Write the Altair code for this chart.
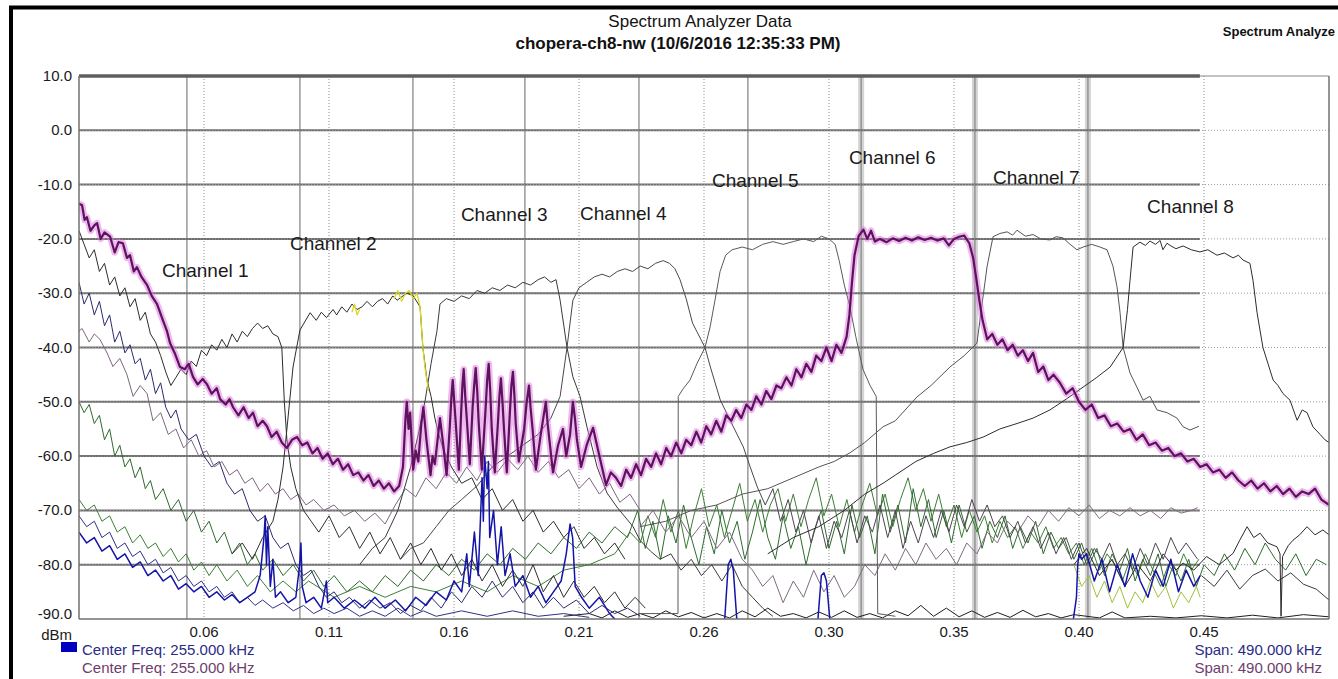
import altair as alt
import pandas as pd

# ---------------- axis / grid values ----------------
F_MIN, F_MAX = 0.01, 0.50
X_TICKS = [0.059, 0.108, 0.157, 0.206, 0.255, 0.304, 0.353, 0.402, 0.451]
X_LABELS = ["0.06", "0.11", "0.16", "0.21", "0.26", "0.30", "0.35", "0.40", "0.45"]
Y_TICKS = [10, 0, -10, -20, -30, -40, -50, -60, -70, -80]
Y_LABELS = ["10.0", "0.0", "-10.0", "-20.0", "-30.0", "-40.0", "-50.0", "-60.0", "-70.0", "-80.0"]
Y_BOTTOM = (-90, "-90.0")
GRID_H = [0, -10, -20, -30, -40, -50, -60, -70, -80]
SOLID_V = [0.0523, 0.0966, 0.1409, 0.1848, 0.2295, 0.2722, 0.3166, 0.3612, 0.4055]
HALO_V = [0.3166, 0.3612, 0.4055]
SOLID_END = 0.4494

# ---------------- traces (frequency MHz, dBm) ----------------
MAG = [(0.0100,-13.5),(0.0112,-13.8),(0.0122,-16.5),(0.0131,-16.0),(0.0145,-18.5),(0.0160,-17.5),(0.0171,-17.1),(0.0185,-20.0),(0.0200,-18.8),(0.0222,-19.6),(0.0240,-22.5),(0.0255,-20.6),(0.0272,-20.8),(0.0288,-23.5),(0.0300,-23.0),(0.0315,-26.0),(0.0327,-25.2),(0.0345,-27.0),(0.0367,-28.5),(0.0385,-30.5),(0.0406,-32.0),(0.0429,-35.0),(0.0445,-37.0),(0.0457,-39.2),(0.0475,-41.0),(0.0496,-43.6),(0.0515,-44.0),(0.0530,-43.0),(0.0547,-45.4),(0.0565,-46.8),(0.0585,-45.8),(0.0602,-46.8),(0.0620,-48.5),(0.0640,-47.5),(0.0653,-49.5),(0.0675,-50.5),(0.0690,-49.5),(0.0704,-51.0),(0.0725,-52.5),(0.0745,-51.0),(0.0765,-53.0),(0.0782,-52.0),(0.0800,-54.5),(0.0820,-53.5),(0.0837,-54.5),(0.0855,-56.5),(0.0875,-55.5),(0.0895,-57.5),(0.0915,-58.5),(0.0935,-57.0),(0.0955,-56.5),(0.0975,-58.0),(0.0995,-57.5),(0.1015,-59.5),(0.1035,-58.5),(0.1055,-60.5),(0.1075,-59.5),(0.1095,-61.5),(0.1115,-60.5),(0.1135,-62.5),(0.1155,-61.5),(0.1175,-63.5),(0.1195,-63.0),(0.1215,-64.5),(0.1235,-63.5),(0.1255,-65.5),(0.1275,-64.5),(0.1295,-66.0),(0.1315,-65.0),(0.1335,-66.5),(0.1355,-65.5),
       (0.1370,-62.0),(0.1380,-53.0),(0.1385,-50.0),(0.1392,-55.0),(0.1398,-52.0),(0.1410,-62.5),(0.1420,-59.0),(0.1430,-61.0),(0.1442,-54.0),(0.1450,-51.0),(0.1462,-57.0),(0.1478,-63.5),(0.1486,-60.0),(0.1495,-61.5),(0.1508,-56.0),(0.1515,-53.0),(0.1528,-58.0),(0.1541,-63.5),(0.1553,-55.0),(0.1560,-49.0),(0.1565,-46.0),(0.1571,-50.0),(0.1577,-54.0),(0.1589,-62.5),(0.1598,-52.0),(0.1603,-47.0),(0.1608,-44.0),(0.1614,-49.0),(0.1620,-53.0),(0.1632,-61.5),(0.1643,-51.0),(0.1649,-47.0),(0.1655,-43.8),(0.1661,-48.0),(0.1667,-54.0),(0.1679,-62.5),(0.1693,-52.0),(0.1700,-46.0),(0.1706,-43.0),(0.1712,-48.0),(0.1718,-55.0),(0.1730,-63.0),(0.1742,-54.0),(0.1748,-49.0),(0.1754,-45.7),(0.1760,-50.0),(0.1766,-55.0),(0.1777,-63.0),(0.1789,-52.0),(0.1795,-47.0),(0.1801,-44.5),(0.1807,-49.0),(0.1812,-54.0),(0.1824,-61.0),(0.1845,-55.0),(0.1855,-50.0),(0.1864,-47.0),(0.1870,-51.0),(0.1878,-55.0),(0.1891,-62.5),(0.1910,-56.0),(0.1920,-53.0),(0.1930,-50.0),(0.1937,-54.0),(0.1944,-57.0),(0.1958,-63.0),(0.1978,-58.0),(0.1997,-55.0),(0.2010,-60.0),(0.2025,-56.0),(0.2036,-50.0),(0.2044,-53.0),(0.2052,-57.0),(0.2068,-62.0),(0.2090,-58.0),(0.2115,-54.8),(0.2140,-60.0),(0.2166,-65.3),(0.2185,-63.0),(0.2205,-64.0),
       (0.2225,-65.5),(0.2245,-62.5),(0.2264,-64.0),(0.2284,-61.5),(0.2303,-63.5),(0.2323,-60.5),(0.2343,-62.0),(0.2362,-59.5),(0.2382,-61.5),(0.2402,-58.5),(0.2421,-60.0),(0.2441,-57.5),(0.2461,-59.5),(0.2480,-57.0),(0.2500,-58.0),(0.2520,-55.5),(0.2539,-57.5),(0.2559,-54.5),(0.2578,-56.0),(0.2598,-53.5),(0.2618,-55.5),(0.2637,-52.5),(0.2657,-53.5),(0.2676,-51.5),(0.2696,-53.0),(0.2716,-50.5),(0.2736,-51.5),(0.2755,-49.0),(0.2775,-50.5),(0.2794,-48.0),(0.2814,-49.5),(0.2834,-47.0),(0.2853,-47.5),(0.2873,-45.5),(0.2893,-47.0),(0.2912,-44.0),(0.2932,-45.5),(0.2951,-43.0),(0.2971,-44.5),(0.2990,-41.5),(0.3010,-42.5),(0.3030,-40.0),(0.3050,-42.5),(0.3069,-39.5),(0.3089,-41.0),(0.3109,-38.0),(0.3120,-34.0),(0.3130,-28.0),(0.3140,-23.0),(0.3156,-19.5),(0.3175,-18.3),(0.3190,-20.0),(0.3205,-18.5),(0.3220,-20.5),(0.3240,-20.0),(0.3266,-20.6),(0.3290,-19.9),(0.3315,-20.4),(0.3340,-19.8),(0.3365,-20.3),(0.3390,-19.7),(0.3415,-20.2),(0.3440,-19.8),(0.3465,-20.3),(0.3490,-19.9),(0.3510,-21.2),(0.3530,-20.0),(0.3550,-19.6),(0.3570,-19.4),(0.3590,-20.8),(0.3605,-23.5),(0.3618,-27.5),(0.3630,-31.5),(0.3642,-35.0),(0.3660,-38.5),(0.3680,-37.5),(0.3700,-39.5),(0.3720,-38.5),(0.3740,-40.5),(0.3760,-39.5),(0.3780,-41.5),(0.3800,-40.5),(0.3820,-42.5),(0.3840,-41.0),(0.3860,-44.5),(0.3880,-43.5),(0.3900,-46.0),(0.3920,-45.0),(0.3945,-46.5),(0.3970,-48.5),(0.3995,-47.5),(0.4020,-50.0),(0.4045,-51.5),(0.4070,-50.5),(0.4095,-53.0),(0.4120,-52.5),(0.4145,-54.5),(0.4170,-54.0),(0.4195,-55.5),(0.4220,-55.0),(0.4245,-57.0),(0.4270,-56.0),(0.4295,-58.0),(0.4320,-57.5),(0.4345,-59.0),(0.4370,-58.5),(0.4395,-60.0),(0.4420,-59.5),(0.4445,-61.0),(0.4470,-60.5),(0.4495,-62.0),(0.4520,-61.5),(0.4545,-63.0),(0.4570,-62.5),(0.4595,-64.0),(0.4620,-63.0),(0.4645,-64.5),(0.4670,-65.5),(0.4695,-64.5),(0.4720,-66.0),(0.4745,-65.0),(0.4770,-66.5),(0.4795,-65.5),(0.4820,-67.0),(0.4845,-66.0),(0.4870,-67.5),(0.4895,-66.5),(0.4920,-67.0),(0.4945,-66.0),(0.4970,-68.0),(0.5000,-69.0)]

CH1 = [(0.0100,-18.5),(0.0120,-21.0),(0.0140,-23.5),(0.0160,-22.0),(0.0180,-26.0),(0.0200,-24.5),(0.0220,-28.5),(0.0240,-27.0),(0.0260,-30.5),(0.0280,-29.0),(0.0300,-32.5),(0.0320,-31.0),(0.0340,-35.0),(0.0360,-33.5),(0.0380,-37.5),(0.0400,-39.0),(0.0420,-41.5),(0.0440,-44.5),(0.0460,-47.0),(0.0480,-45.5),(0.0500,-44.0),(0.0520,-45.0),(0.0540,-42.5),(0.0560,-43.5),(0.0580,-40.5),(0.0600,-41.5),(0.0620,-39.5),(0.0640,-40.5),(0.0660,-38.5),(0.0680,-40.0),(0.0700,-37.5),(0.0720,-39.0),(0.0740,-37.0),(0.0760,-38.0),(0.0780,-36.5),(0.0800,-35.5),(0.0820,-36.5),(0.0840,-36.0),(0.0860,-37.5),(0.0880,-38.0),(0.0895,-40.0),(0.0905,-50.0),(0.0915,-57.0),(0.0930,-62.0),(0.0950,-66.0),(0.0980,-70.0),(0.1010,-72.0),(0.1040,-74.0),(0.1080,-71.0),(0.1120,-75.0),(0.1160,-73.0),(0.1200,-77.0),(0.1240,-74.0),(0.1280,-78.0),(0.1320,-75.0),(0.1360,-79.0),(0.1400,-76.0),(0.1440,-80.0),(0.1480,-77.0),(0.1520,-81.0),(0.1560,-78.0),(0.1600,-82.0),(0.1640,-79.0),(0.1680,-83.0),(0.1720,-80.0),(0.1760,-84.0),(0.1800,-81.0),(0.1840,-84.0),(0.1880,-80.0),(0.1920,-85.0),(0.1960,-82.0),(0.2000,-86.0),(0.2040,-83.0),(0.2080,-86.0),(0.2120,-84.0),(0.2160,-87.0),(0.2200,-85.0),(0.2240,-88.0),(0.2280,-86.0),(0.2320,-88.0)]

CH2 = [(0.0700,-78.0),(0.0740,-76.0),(0.0780,-79.0),(0.0820,-75.0),(0.0860,-72.0),(0.0880,-68.0),(0.0900,-62.0),(0.0915,-55.0),(0.0939,-43.6),(0.0966,-36.8),(0.1006,-33.6),(0.1030,-35.0),(0.1050,-33.5),(0.1070,-34.5),(0.1096,-33.0),(0.1110,-34.0),(0.1130,-32.5),(0.1150,-33.5),(0.1170,-32.0),(0.1190,-33.0),(0.1210,-32.5),(0.1229,-31.5),(0.1250,-32.5),(0.1270,-31.5),(0.1290,-31.0),(0.1310,-32.0),(0.1330,-30.5),(0.1347,-31.3),(0.1370,-30.5),(0.1386,-30.0),(0.1410,-30.5),(0.1437,-32.5),(0.1448,-40.0),(0.1464,-46.0),(0.1480,-49.0),(0.1495,-53.0),(0.1510,-56.0),(0.1530,-59.0),(0.1560,-62.0),(0.1600,-65.0),(0.1640,-64.0),(0.1680,-68.0),(0.1720,-66.0),(0.1760,-70.0),(0.1800,-68.0),(0.1840,-72.0),(0.1880,-70.0),(0.1920,-74.0),(0.1960,-72.0),(0.2000,-75.0),(0.2040,-73.0),(0.2080,-77.0),(0.2120,-75.0),(0.2160,-78.0),(0.2200,-76.0),(0.2240,-79.0)]

YEL1 = [(0.1170,-33.5),(0.1180,-32.0),(0.1190,-34.0),(0.1200,-33.0)]
YEL2 = [(0.1335,-31.0),(0.1350,-29.5),(0.1365,-31.5),(0.1380,-30.0),(0.1395,-29.5),(0.1410,-31.0),(0.1425,-30.0),(0.1437,-32.5),(0.1448,-40.0),(0.1457,-44.0),(0.1470,-48.0)]

CH3 = [(0.1200,-80.0),(0.1250,-77.0),(0.1300,-75.0),(0.1350,-70.0),(0.1400,-62.0),(0.1430,-56.0),(0.1456,-50.0),(0.1480,-43.0),(0.1503,-37.0),(0.1515,-32.0),(0.1540,-31.0),(0.1570,-31.5),(0.1600,-30.5),(0.1630,-31.0),(0.1660,-29.5),(0.1690,-30.0),(0.1720,-29.0),(0.1750,-29.5),(0.1780,-28.5),(0.1810,-29.0),(0.1840,-28.0),(0.1870,-28.5),(0.1900,-27.5),(0.1925,-27.0),(0.1950,-28.0),(0.1970,-27.5),(0.1986,-31.3),(0.2013,-40.0),(0.2036,-45.4),(0.2064,-49.0),(0.2091,-54.6),(0.2131,-62.0),(0.2170,-66.8),(0.2209,-69.4),(0.2272,-73.0),(0.2299,-75.5),(0.2340,-77.5),(0.2378,-79.0),(0.2420,-78.0),(0.2460,-81.0),(0.2500,-79.0),(0.2540,-82.0),(0.2580,-80.0),(0.2620,-83.0),(0.2660,-80.0),(0.2700,-84.0),(0.2740,-86.0),(0.2780,-88.0),(0.2820,-89.5)]

CH4 = [(0.1360,-79.0),(0.1400,-77.0),(0.1450,-76.0),(0.1500,-73.0),(0.1550,-70.0),(0.1600,-68.0),(0.1660,-65.5),(0.1720,-62.0),(0.1780,-60.0),(0.1840,-58.0),(0.1900,-56.0),(0.1950,-53.0),(0.1986,-49.0),(0.2013,-40.0),(0.2036,-31.3),(0.2060,-29.0),(0.2090,-28.0),(0.2120,-27.0),(0.2150,-26.5),(0.2180,-27.0),(0.2210,-26.0),(0.2240,-25.5),(0.2270,-26.0),(0.2300,-25.0),(0.2330,-25.5),(0.2360,-24.5),(0.2390,-24.0),(0.2415,-24.5),(0.2436,-25.5),(0.2456,-27.5),(0.2480,-31.0),(0.2505,-35.5),(0.2554,-40.0),(0.2575,-43.6),(0.2614,-49.7),(0.2665,-54.6),(0.2704,-58.3),(0.2731,-62.0),(0.2759,-65.7),(0.2790,-69.0),(0.2820,-66.0),(0.2850,-72.0),(0.2880,-68.0),(0.2910,-74.0),(0.2940,-70.0),(0.2970,-76.0),(0.3000,-71.0),(0.3030,-77.0),(0.3060,-72.0),(0.3090,-75.0),(0.3120,-70.0),(0.3150,-76.0),(0.3180,-71.0),(0.3210,-74.0),(0.3240,-69.0),(0.3270,-75.0),(0.3300,-70.0),(0.3330,-77.0),(0.3360,-72.0),(0.3390,-76.0),(0.3420,-71.0),(0.3450,-75.0),(0.3480,-70.0),(0.3510,-74.0),(0.3540,-69.0),(0.3570,-73.0),(0.3600,-68.0),(0.3630,-72.0),(0.3660,-69.0),(0.3690,-73.0),(0.3720,-71.0),(0.3750,-75.0),(0.3780,-72.0),(0.3810,-76.0),(0.3840,-73.0),(0.3870,-77.0),(0.3900,-74.0),(0.3930,-78.0),(0.3960,-75.0),(0.3990,-79.0),(0.4020,-76.0),(0.4050,-80.0),(0.4080,-77.0),(0.4110,-79.0),(0.4140,-76.0),(0.4170,-80.0),(0.4200,-78.0),(0.4230,-81.0),(0.4260,-77.0),(0.4290,-80.0),(0.4320,-76.0),(0.4350,-79.0),(0.4380,-75.0),(0.4410,-78.0),(0.4440,-76.0),(0.4485,-79.0)]

CH5 = [(0.2300,-89.0),(0.2448,-89.0),(0.2449,-49.0),(0.2470,-47.5),(0.2495,-46.0),(0.2523,-42.9),(0.2554,-40.0),(0.2574,-36.2),(0.2593,-31.3),(0.2613,-26.0),(0.2635,-23.0),(0.2660,-22.0),(0.2700,-21.5),(0.2740,-22.0),(0.2780,-21.0),(0.2820,-20.5),(0.2860,-21.0),(0.2900,-20.5),(0.2940,-20.0),(0.2980,-20.5),(0.3010,-19.5),(0.3040,-20.0),(0.3064,-21.0),(0.3080,-24.0),(0.3100,-28.5),(0.3122,-32.5),(0.3145,-38.0),(0.3173,-44.0),(0.3201,-47.0),(0.3225,-49.0),(0.3231,-89.0),(0.3300,-89.5)]

CH7 = [(0.2300,-73.0),(0.2400,-72.0),(0.2500,-70.0),(0.2600,-69.0),(0.2700,-67.0),(0.2800,-66.0),(0.2900,-64.0),(0.3000,-62.0),(0.3060,-61.0),(0.3122,-59.4),(0.3180,-57.5),(0.3252,-54.6),(0.3300,-53.5),(0.3385,-49.1),(0.3440,-47.0),(0.3514,-43.6),(0.3570,-41.5),(0.3620,-39.2),(0.3640,-32.0),(0.3660,-25.0),(0.3683,-19.6),(0.3710,-19.0),(0.3738,-18.7),(0.3760,-19.3),(0.3777,-18.4),(0.3810,-19.5),(0.3840,-19.2),(0.3870,-20.0),(0.3906,-20.2),(0.3930,-19.6),(0.3957,-19.8),(0.3985,-21.0),(0.4012,-22.0),(0.4036,-21.5),(0.4070,-21.0),(0.4102,-21.5),(0.4130,-22.0),(0.4153,-25.0),(0.4169,-28.8),(0.4181,-33.6),(0.4193,-40.0),(0.4220,-44.7),(0.4247,-47.3),(0.4271,-49.7),(0.4298,-49.0),(0.4326,-51.5),(0.4365,-52.0),(0.4404,-53.0),(0.4428,-54.6),(0.4455,-55.2),(0.4490,-54.5)]

CH8 = [(0.2800,-78.0),(0.2900,-75.0),(0.3000,-73.0),(0.3100,-70.0),(0.3180,-67.0),(0.3252,-65.0),(0.3300,-63.5),(0.3380,-61.0),(0.3450,-59.5),(0.3514,-58.3),(0.3580,-57.5),(0.3644,-56.5),(0.3710,-55.0),(0.3777,-54.0),(0.3840,-53.0),(0.3906,-51.5),(0.3970,-49.5),(0.4036,-47.3),(0.4090,-45.5),(0.4142,-43.6),(0.4193,-40.0),(0.4210,-33.0),(0.4220,-27.6),(0.4232,-21.5),(0.4259,-20.6),(0.4280,-21.2),(0.4298,-20.4),(0.4320,-21.0),(0.4338,-20.3),(0.4349,-22.0),(0.4365,-20.8),(0.4377,-21.2),(0.4400,-21.8),(0.4428,-21.3),(0.4460,-22.0),(0.4494,-22.4),(0.4525,-22.0),(0.4561,-23.0),(0.4590,-22.6),(0.4624,-23.5),(0.4645,-23.0),(0.4663,-23.9),(0.4690,-24.5),(0.4702,-27.6),(0.4718,-33.6),(0.4741,-40.0),(0.4781,-46.0),(0.4800,-47.0),(0.4820,-48.5),(0.4847,-49.7),(0.4875,-53.4),(0.4895,-51.5),(0.4914,-52.0),(0.4937,-54.6),(0.4965,-56.0),(0.4984,-57.0),(0.5000,-57.5)]

PURP1 = [(0.0100,-37.0),(0.0112,-36.5),(0.0140,-39.0),(0.0160,-37.5),(0.0182,-38.5),(0.0210,-41.0),(0.0233,-43.5),(0.0260,-42.0),(0.0288,-45.0),(0.0312,-49.0),(0.0340,-47.0),(0.0367,-48.5),(0.0390,-53.5),(0.0420,-52.0),(0.0450,-56.0),(0.0480,-55.0),(0.0510,-58.5),(0.0540,-57.0),(0.0570,-60.0),(0.0600,-59.0),(0.0630,-62.0),(0.0660,-61.0),(0.0690,-63.5),(0.0720,-62.5),(0.0750,-65.0),(0.0780,-64.0),(0.0810,-66.5),(0.0840,-65.0),(0.0870,-67.0),(0.0900,-66.0),(0.0930,-68.0),(0.0960,-67.0),(0.0990,-69.0),(0.1020,-68.0),(0.1060,-70.0),(0.1100,-69.0),(0.1140,-71.0),(0.1180,-70.0),(0.1220,-72.0),(0.1260,-70.5),(0.1300,-72.5),(0.1340,-69.0),(0.1380,-66.0),(0.1420,-67.5),(0.1460,-64.0),(0.1500,-66.0),(0.1540,-63.0),(0.1580,-65.0),(0.1620,-62.0),(0.1660,-64.5),(0.1700,-61.0),(0.1740,-63.0),(0.1780,-60.5),(0.1820,-62.5),(0.1860,-60.0),(0.1900,-63.0),(0.1940,-61.0),(0.1980,-64.0),(0.2020,-62.5),(0.2060,-66.0),(0.2100,-64.0),(0.2140,-67.0),(0.2180,-65.0),(0.2220,-68.5),(0.2260,-67.0),(0.2300,-70.0)]

PURP2 = [(0.2300,-73.0),(0.2350,-70.0),(0.2400,-74.0),(0.2450,-71.0),(0.2500,-75.0),(0.2550,-72.0),(0.2600,-77.0),(0.2650,-74.0),(0.2700,-79.0),(0.2740,-81.0),(0.2780,-84.0),(0.2820,-82.0),(0.2860,-87.0),(0.2900,-83.0),(0.2940,-86.0),(0.2980,-81.0),(0.3020,-85.0),(0.3060,-82.0),(0.3100,-86.0),(0.3140,-84.0),(0.3180,-80.0),(0.3220,-82.0),(0.3260,-78.0),(0.3300,-81.0),(0.3340,-77.0),(0.3380,-80.0),(0.3420,-76.0),(0.3460,-79.0),(0.3500,-77.0),(0.3540,-80.0),(0.3580,-76.0),(0.3620,-78.0),(0.3660,-74.0),(0.3700,-76.0),(0.3740,-72.0),(0.3780,-74.0),(0.3820,-71.0),(0.3860,-73.0),(0.3900,-70.0),(0.3940,-72.0),(0.3980,-69.5),(0.4020,-71.0),(0.4060,-69.0),(0.4100,-71.5),(0.4140,-70.0),(0.4180,-71.0),(0.4220,-69.5),(0.4260,-71.0),(0.4300,-70.0),(0.4340,-71.5),(0.4380,-69.5),(0.4420,-70.5),(0.4460,-70.0),(0.4485,-69.5)]

NAVY1 = [(0.0100,-28.0),(0.0120,-32.0),(0.0140,-30.0),(0.0160,-34.0),(0.0180,-31.5),(0.0200,-36.0),(0.0220,-34.0),(0.0240,-39.0),(0.0260,-37.0),(0.0280,-41.0),(0.0300,-39.5),(0.0320,-43.0),(0.0340,-42.0),(0.0360,-46.0),(0.0380,-44.0),(0.0400,-48.5),(0.0420,-46.5),(0.0440,-51.0),(0.0460,-53.0),(0.0480,-51.5),(0.0500,-55.0),(0.0530,-57.0),(0.0560,-56.0),(0.0590,-60.0),(0.0620,-62.0),(0.0650,-61.0),(0.0680,-65.0),(0.0710,-67.0),(0.0740,-66.0),(0.0770,-70.0),(0.0800,-72.0),(0.0830,-71.0),(0.0860,-75.0),(0.0890,-77.0),(0.0920,-76.0),(0.0950,-80.0),(0.0980,-82.0),(0.1010,-81.0),(0.1040,-84.0),(0.1070,-86.0),(0.1100,-85.0),(0.1130,-87.0),(0.1160,-86.0),(0.1200,-88.0),(0.1240,-86.5),(0.1280,-88.0),(0.1320,-87.0),(0.1360,-89.0),(0.1400,-87.5),(0.1440,-88.5),(0.1480,-86.0),(0.1520,-88.0),(0.1560,-85.0),(0.1600,-87.0),(0.1640,-84.0),(0.1680,-86.0),(0.1720,-83.0),(0.1760,-86.0),(0.1800,-84.0),(0.1840,-87.0),(0.1880,-85.0),(0.1920,-88.0),(0.1960,-86.0),(0.2000,-88.0),(0.2050,-86.5),(0.2100,-89.0),(0.2150,-87.5),(0.2200,-89.0),(0.2250,-88.0),(0.2300,-89.5)]

NAVY2 = [(0.0100,-71.0),(0.0130,-73.0),(0.0160,-72.0),(0.0190,-75.0),(0.0220,-74.0),(0.0250,-77.0),(0.0280,-76.0),(0.0310,-78.5),(0.0340,-77.5),(0.0370,-80.0),(0.0400,-79.0),(0.0430,-81.5),(0.0460,-80.5),(0.0490,-83.0),(0.0520,-82.0),(0.0550,-84.0),(0.0580,-83.0),(0.0610,-85.0),(0.0640,-84.0),(0.0670,-86.0),(0.0700,-85.0),(0.0730,-87.0),(0.0760,-86.0),(0.0790,-87.5),(0.0820,-86.5),(0.0860,-88.0),(0.0900,-87.0),(0.0940,-88.5),(0.0980,-87.5),(0.1020,-89.0),(0.1060,-88.0),(0.1100,-89.0),(0.1150,-88.0),(0.1200,-89.5),(0.1250,-88.5),(0.1300,-89.5),(0.1350,-88.0),(0.1400,-89.5),(0.1450,-88.5),(0.1500,-89.5),(0.1600,-88.5),(0.1700,-89.5),(0.1800,-88.5),(0.1900,-89.5),(0.2000,-89.0),(0.2100,-89.7)]

BLUE = [(0.0100,-74.0),(0.0130,-76.0),(0.0160,-75.0),(0.0190,-77.5),(0.0220,-76.5),(0.0250,-79.0),(0.0280,-78.0),(0.0310,-80.5),(0.0340,-79.5),(0.0370,-82.0),(0.0400,-81.0),(0.0430,-83.0),(0.0460,-82.0),(0.0490,-84.5),(0.0520,-83.5),(0.0550,-85.0),(0.0580,-84.0),(0.0610,-86.0),(0.0640,-85.0),(0.0670,-86.5),(0.0700,-85.5),(0.0730,-87.0),(0.0760,-86.0),(0.0790,-85.0),(0.0810,-82.0),(0.0825,-75.0),(0.0830,-71.0),(0.0835,-80.0),(0.0840,-73.0),(0.0850,-84.0),(0.0860,-79.0),(0.0870,-86.0),(0.0890,-85.0),(0.0920,-87.0),(0.0950,-86.0),(0.0965,-80.0),(0.0970,-76.0),(0.0975,-84.0),(0.0990,-87.0),(0.1020,-86.0),(0.1050,-88.0),(0.1070,-83.0),(0.1075,-87.0),(0.1100,-86.0),(0.1140,-88.0),(0.1180,-86.5),(0.1220,-88.0),(0.1260,-86.0),(0.1300,-88.0),(0.1340,-86.5),(0.1380,-88.5),(0.1420,-86.0),(0.1460,-87.5),(0.1500,-85.0),(0.1540,-86.5),(0.1570,-83.0),(0.1600,-85.0),(0.1620,-78.0),(0.1630,-84.0),(0.1650,-74.0),(0.1665,-82.0),(0.1680,-64.0),(0.1685,-72.0),(0.1690,-60.0),(0.1700,-66.0),(0.1705,-61.0),(0.1710,-75.0),(0.1725,-70.0),(0.1740,-80.0),(0.1755,-73.0),(0.1770,-82.0),(0.1790,-78.0),(0.1810,-84.0),(0.1840,-82.0),(0.1870,-86.0),(0.1900,-84.0),(0.1930,-87.0),(0.1960,-85.0),(0.1990,-83.0),(0.2010,-78.0),(0.2025,-72.5),(0.2035,-75.0),(0.2045,-84.0),(0.2070,-86.0),(0.2100,-88.0),(0.2140,-86.0),(0.2180,-89.0),(0.2220,-91.0),(0.2630,-91.0),(0.2645,-80.0),(0.2655,-79.0),(0.2665,-81.0),(0.2680,-91.0),(0.2995,-91.0),(0.3010,-82.0),(0.3020,-81.5),(0.3030,-83.0),(0.3045,-91.0),(0.3995,-91.0),(0.4010,-86.0),(0.4015,-80.0),(0.4020,-78.0),(0.4030,-79.0),(0.4050,-78.0),(0.4080,-83.0),(0.4110,-79.0),(0.4140,-85.0),(0.4170,-80.0),(0.4200,-84.0),(0.4230,-78.0),(0.4260,-83.0),(0.4290,-86.0),(0.4320,-81.0),(0.4350,-84.0),(0.4380,-79.0),(0.4410,-85.0),(0.4440,-81.0),(0.4470,-84.0),(0.4495,-82.0)]

GREEN1 = [(0.0100,-50.0),(0.0120,-52.0),(0.0140,-50.5),(0.0160,-54.0),(0.0180,-52.5),(0.0200,-57.0),(0.0220,-55.0),(0.0240,-60.0),(0.0260,-58.0),(0.0280,-62.0),(0.0300,-60.5),(0.0320,-64.0),(0.0340,-62.0),(0.0360,-66.0),(0.0380,-64.5),(0.0400,-68.0),(0.0430,-66.0),(0.0460,-70.0),(0.0490,-68.0),(0.0520,-72.0),(0.0550,-70.0),(0.0580,-74.0),(0.0610,-72.0),(0.0640,-76.0),(0.0670,-74.0),(0.0700,-78.0),(0.0730,-76.0),(0.0760,-80.0),(0.0790,-78.0),(0.0820,-81.0),(0.0860,-79.0),(0.0900,-82.0),(0.0940,-80.0),(0.0980,-83.0),(0.1020,-81.0),(0.1060,-84.0),(0.1100,-82.0),(0.1150,-85.0),(0.1200,-83.0),(0.1250,-85.0),(0.1300,-82.0),(0.1350,-84.0),(0.1400,-81.0),(0.1450,-83.0),(0.1500,-80.0),(0.1550,-82.0),(0.1600,-79.0),(0.1650,-81.0),(0.1700,-78.0),(0.1750,-80.0),(0.1800,-77.0),(0.1850,-79.0),(0.1900,-76.0),(0.1950,-78.0),(0.2000,-75.0),(0.2050,-77.0),(0.2100,-74.0),(0.2150,-76.0),(0.2200,-73.0),(0.2250,-75.0),
          (0.2290,-70.0),(0.2320,-77.0),(0.2350,-72.0),(0.2380,-79.0),(0.2410,-71.0),(0.2440,-76.0),(0.2470,-69.0),(0.2500,-75.0),(0.2530,-80.0),(0.2560,-73.0),(0.2590,-78.0),(0.2620,-70.0),(0.2650,-76.0),(0.2680,-72.0),(0.2710,-79.0),(0.2740,-74.0),(0.2770,-68.0),(0.2800,-75.0),(0.2830,-79.0),(0.2860,-71.0),(0.2890,-77.0),(0.2920,-73.0),(0.2950,-80.0),(0.2980,-74.0),(0.3010,-70.0),(0.3040,-77.0),(0.3070,-72.0),(0.3100,-78.0),(0.3130,-69.0),(0.3160,-75.0),(0.3190,-71.0),(0.3220,-78.0),(0.3250,-67.0),(0.3280,-74.0),(0.3310,-69.0),(0.3340,-76.0),(0.3370,-66.0),(0.3400,-73.0),(0.3430,-68.0),(0.3460,-75.0),(0.3490,-70.0),(0.3520,-76.0),(0.3550,-69.0),(0.3580,-74.0),(0.3610,-71.0),(0.3640,-77.0),(0.3670,-72.0),(0.3700,-75.0),(0.3730,-71.0),(0.3760,-77.0),(0.3790,-73.0),(0.3820,-76.0),(0.3850,-72.0),(0.3880,-78.0),(0.3910,-74.0),(0.3940,-77.0),(0.3970,-75.0),(0.4000,-79.0),(0.4030,-76.0),(0.4060,-80.0),(0.4090,-77.0),(0.4120,-82.0),(0.4150,-78.0),(0.4180,-81.0),(0.4210,-77.0),(0.4240,-83.0),(0.4270,-79.0),(0.4300,-82.0),(0.4330,-78.0),(0.4360,-84.0),(0.4390,-80.0),(0.4420,-83.0),(0.4450,-79.0),(0.4480,-84.0),(0.4510,-80.0),(0.4550,-82.0),(0.4590,-78.0),(0.4630,-81.0),(0.4670,-77.0),(0.4710,-80.0),(0.4750,-76.0),(0.4790,-79.0),(0.4830,-81.0),(0.4870,-78.0),(0.4910,-82.0),(0.4950,-79.0),(0.4990,-80.0)]

GREEN2 = [(0.0100,-68.0),(0.0130,-70.0),(0.0160,-69.0),(0.0190,-72.0),(0.0220,-71.0),(0.0250,-74.0),(0.0280,-73.0),(0.0310,-76.0),(0.0340,-74.5),(0.0370,-77.0),(0.0400,-76.0),(0.0430,-78.5),(0.0460,-77.0),(0.0490,-79.5),(0.0520,-78.0),(0.0550,-81.0),(0.0580,-79.5),(0.0610,-82.0),(0.0640,-80.0),(0.0680,-83.0),(0.0720,-81.0),(0.0760,-84.0),(0.0800,-82.0),(0.0850,-85.0),(0.0900,-83.0),(0.0950,-85.0),(0.1000,-83.0),(0.1100,-86.0),(0.1200,-84.0),(0.1300,-86.0),(0.1400,-84.0),(0.1500,-85.0),(0.1600,-83.0),(0.1700,-85.0),(0.1800,-82.0),(0.1900,-84.0),(0.2000,-81.0),(0.2100,-80.0),(0.2200,-78.0),(0.2260,-74.0),
          (0.2300,-76.0),(0.2330,-71.0),(0.2360,-75.0),(0.2390,-68.0),(0.2420,-74.0),(0.2450,-70.0),(0.2480,-77.0),(0.2510,-71.0),(0.2540,-66.0),(0.2570,-73.0),(0.2600,-69.0),(0.2630,-75.0),(0.2660,-70.0),(0.2690,-65.0),(0.2720,-72.0),(0.2750,-68.0),(0.2780,-74.0),(0.2810,-69.0),(0.2840,-66.0),(0.2870,-72.0),(0.2900,-67.0),(0.2930,-73.0),(0.2960,-68.0),(0.2990,-64.0),(0.3020,-71.0),(0.3050,-67.0),(0.3080,-73.0),(0.3110,-68.0),(0.3140,-74.0),(0.3170,-69.0),(0.3200,-65.0),(0.3230,-71.0),(0.3260,-67.0),(0.3290,-73.0),(0.3320,-68.0),(0.3350,-64.0),(0.3380,-70.0),(0.3410,-66.0),(0.3440,-72.0),(0.3470,-67.0),(0.3500,-73.0),(0.3530,-69.0),(0.3560,-75.0),(0.3590,-70.0),(0.3620,-74.0),(0.3650,-71.0),(0.3680,-76.0),(0.3710,-72.0),(0.3740,-75.0),(0.3770,-73.0),(0.3800,-77.0),(0.3830,-74.0),(0.3860,-76.0),(0.3890,-73.0),(0.3920,-77.0),(0.3950,-75.0),(0.3980,-78.0),(0.4010,-76.0),(0.4040,-80.0),(0.4070,-77.0),(0.4100,-81.0),(0.4130,-78.0),(0.4160,-80.0),(0.4190,-83.0),(0.4220,-79.0),(0.4250,-82.0),(0.4280,-78.0),(0.4310,-81.0),(0.4340,-84.0),(0.4370,-80.0),(0.4400,-82.0),(0.4430,-78.0),(0.4460,-81.0),(0.4490,-79.0)]

YGREEN = [(0.4000,-80.0),(0.4030,-84.0),(0.4060,-82.0),(0.4090,-86.0),(0.4120,-83.0),(0.4150,-87.0),(0.4180,-84.0),(0.4210,-88.0),(0.4240,-85.0),(0.4270,-87.0),(0.4300,-83.0),(0.4330,-86.0),(0.4360,-84.0),(0.4390,-88.0),(0.4420,-85.0),(0.4450,-87.0),(0.4480,-84.0),(0.4495,-86.0)]

BLK_R = [(0.4000,-80.0),(0.4050,-77.0),(0.4100,-82.0),(0.4150,-79.0),(0.4200,-84.0),(0.4250,-80.0),(0.4300,-83.0),(0.4350,-78.0),(0.4400,-81.0),(0.4428,-79.7),(0.4470,-81.0),(0.4520,-78.5),(0.4570,-80.0),(0.4624,-77.9),(0.4650,-75.5),(0.4679,-73.0),(0.4705,-75.0),(0.4730,-74.2),(0.4760,-76.0),(0.4796,-76.7),(0.4808,-78.0),(0.4812,-89.5),(0.4818,-78.5),(0.4840,-76.5),(0.4859,-75.5),(0.4885,-74.5),(0.4914,-73.0),(0.4945,-74.5),(0.4976,-73.6),(0.5000,-74.5)]

BLK_R2 = [(0.4500,-82.0),(0.4550,-84.0),(0.4600,-81.0),(0.4650,-84.5),(0.4700,-82.0),(0.4750,-80.8),(0.4800,-83.0),(0.4850,-81.5),(0.4900,-83.6),(0.4950,-84.5),(0.5000,-86.5)]

FLOOR = [(0.2000,-89.5),(0.2100,-89.0),(0.2150,-89.8),(0.2200,-88.5),(0.2250,-89.7),(0.2300,-89.0),(0.2350,-89.8),(0.2400,-88.5),(0.2450,-89.6),(0.2500,-88.8),(0.2550,-89.8),(0.2600,-89.0),(0.2650,-89.8),(0.2700,-88.5),(0.2750,-89.6),(0.2800,-88.0),(0.2850,-89.5),(0.2900,-89.0),(0.2950,-89.8),(0.3000,-88.7),(0.3050,-89.7),(0.3100,-88.5),(0.3150,-89.7),(0.3200,-89.0),(0.3250,-89.8),(0.3300,-88.5),(0.3350,-89.4),(0.3400,-87.5),(0.3450,-89.5),(0.3500,-88.0),(0.3550,-89.6),(0.3600,-88.5),(0.3650,-89.7),(0.3700,-88.8),(0.3750,-89.7),(0.3800,-88.4),(0.3850,-89.6),(0.3900,-89.0),(0.3950,-89.8),(0.4000,-89.2),(0.4100,-89.8),(0.4150,-88.7),(0.4200,-89.8),(0.4300,-89.5),(0.4400,-89.8),(0.4500,-89.4),(0.4600,-89.8),(0.4700,-89.3),(0.4800,-89.8),(0.4900,-89.2),(0.5000,-89.6)]

# channel labels: (text, left frequency, dBm)
LABELS = [("Channel 1", 0.0425, -25.9), ("Channel 2", 0.0927, -20.9), ("Channel 3", 0.1597, -15.6),
          ("Channel 4", 0.2064, -15.4), ("Channel 5", 0.2581, -9.3), ("Channel 6", 0.3118, -5.1),
          ("Channel 7", 0.3683, -8.8), ("Channel 8", 0.4287, -14.1)]

FONT = "Liberation Sans"
XS = alt.Scale(domain=[F_MIN, F_MAX], nice=False, zero=False)
YS = alt.Scale(domain=[-90, 10], nice=False, zero=False)
XE = alt.X("f:Q", scale=XS, axis=None)
YE = alt.Y("db:Q", scale=YS, axis=None)


def frame(points):
    return pd.DataFrame({"f": [p[0] for p in points], "db": [p[1] for p in points],
                         "i": list(range(len(points)))})


def trace(points, color, width, opacity=1.0):
    return alt.Chart(frame(points)).mark_line(
        color=color, strokeWidth=width, opacity=opacity, strokeJoin="round", clip=True
    ).encode(x=XE, y=YE, order="i:Q")


# ---------------- grid ----------------
halo = alt.Chart(pd.DataFrame({"f": HALO_V})).mark_rule(color="#d4d4d4", strokeWidth=6).encode(x=XE)
solid_v = alt.Chart(pd.DataFrame({"f": SOLID_V})).mark_rule(color="#8a8a8a", strokeWidth=1.3).encode(x=XE)
dot_v = alt.Chart(pd.DataFrame({"f": X_TICKS})).mark_rule(color="#8c8c8c", strokeWidth=1, strokeDash=[1, 2]).encode(x=XE)
solid_h = alt.Chart(pd.DataFrame({"db": GRID_H, "f": [F_MIN] * len(GRID_H), "f1": [SOLID_END] * len(GRID_H)})
                    ).mark_rule(color="#6e6e6e", strokeWidth=2).encode(x=XE, x2="f1:Q", y=YE)
dot_h = alt.Chart(pd.DataFrame({"db": GRID_H})).mark_rule(color="#9a9a9a", strokeWidth=1, strokeDash=[1, 2]).encode(y=YE)
top_thick = alt.Chart(pd.DataFrame({"db": [10], "f": [F_MIN], "f1": [SOLID_END]})).mark_rule(
    color="#5e5e5e", strokeWidth=3.5).encode(x=XE, x2="f1:Q", y=YE)
top_thin = alt.Chart(pd.DataFrame({"db": [10], "f": [SOLID_END], "f1": [F_MAX]})).mark_rule(
    color="#8a8a8a", strokeWidth=1.2).encode(x=XE, x2="f1:Q", y=YE)
side_borders = alt.Chart(pd.DataFrame({"f": [F_MIN, F_MAX]})).mark_rule(color="#707070", strokeWidth=1.5).encode(x=XE)
bottom_border = alt.Chart(pd.DataFrame({"db": [-90]})).mark_rule(color="#707070", strokeWidth=1.5).encode(y=YE)

# ---------------- axis labels ----------------
ylab = alt.Chart(pd.DataFrame({"db": Y_TICKS, "t": Y_LABELS})).mark_text(
    align="right", baseline="middle", font=FONT, fontSize=15, color="#1a1a1a").encode(
    x=alt.value(-7), y=YE, text="t:N")
ylab_bottom = alt.Chart(pd.DataFrame({"db": [Y_BOTTOM[0]], "t": [Y_BOTTOM[1]]})).mark_text(
    align="right", baseline="middle", font=FONT, fontSize=15, color="#1a1a1a", dy=-5).encode(
    x=alt.value(-7), y=YE, text="t:N")
xlab = alt.Chart(pd.DataFrame({"f": X_TICKS, "t": X_LABELS})).mark_text(
    align="center", baseline="middle", font=FONT, fontSize=15, color="#1a1a1a").encode(
    x=XE, y=alt.value(556), text="t:N")

# ---------------- traces ----------------
layers = [
    halo, solid_v, dot_v, solid_h, dot_h, top_thick, top_thin,
    trace(FLOOR, "#1e1e1e", 1.0),
    trace(GREEN2, "#3e7e36", 1.0),
    trace(GREEN1, "#2f6a2f", 1.0),
    trace(YGREEN, "#9cc43c", 1.0),
    trace(NAVY2, "#30308a", 1.0),
    trace(NAVY1, "#2b2b6e", 1.0),
    trace(PURP1, "#7d6680", 1.0),
    trace(PURP2, "#806a82", 1.0),
    trace(BLK_R2, "#3a3a3a", 1.0),
    trace(BLK_R, "#2a2a2a", 1.0),
    trace(CH1, "#2d2d2d", 1.0),
    trace(CH2, "#2d2d2d", 1.0),
    trace(CH3, "#3a3a3a", 1.0),
    trace(CH4, "#4d4450", 1.0),
    trace(CH5, "#5a5a5a", 1.0),
    trace(CH7, "#555555", 1.0),
    trace(CH8, "#2d2d2d", 1.0),
    trace(YEL1, "#d8d820", 1.3),
    trace(YEL2, "#d8d820", 1.3),
    trace(MAG, "#e070e0", 6.5, opacity=0.5),
    trace(MAG, "#5c125c", 2.2),
    trace(BLUE, "#1414a8", 1.5),
    side_borders, bottom_border, ylab, ylab_bottom, xlab,
]

labels_df = pd.DataFrame({"t": [l[0] for l in LABELS], "f": [l[1] for l in LABELS], "db": [l[2] for l in LABELS]})
layers.append(alt.Chart(labels_df).mark_text(
    align="left", baseline="middle", font=FONT, fontSize=19, color="#1a1a1a").encode(
    x=XE, y=YE, text="t:N"))


def ptext(txt, x, y, size, color="#111111", weight="normal", align="center"):
    return alt.Chart(pd.DataFrame({"t": [txt]})).mark_text(
        align=align, baseline="middle", font=FONT, fontSize=size, fontWeight=weight, color=color
    ).encode(x=alt.value(x), y=alt.value(y), text="t:N")


layers += [
    ptext("Spectrum Analyzer Data", 621, -54, 17),
    ptext("chopera-ch8-nw (10/6/2016 12:35:33 PM)", 599, -32, 17, weight="bold"),
    ptext("Spectrum Analyze", 1256, -44, 13, weight="bold", align="right"),
    ptext("dBm", -7, 559, 15, color="#1a1a1a", align="right"),
    ptext("Center Freq: 255.000 kHz", 3, 574, 15, color="#2b2b85", align="left"),
    ptext("Center Freq: 255.000 kHz", 3, 592, 15, color="#6e3d6e", align="left"),
    ptext("Span: 490.000 kHz", 1243, 574, 15, color="#2b2b85", align="right"),
    ptext("Span: 490.000 kHz", 1243, 592, 15, color="#6e3d6e", align="right"),
    alt.Chart(pd.DataFrame({"a": [0]})).mark_rect(color="#0000c0").encode(
        x=alt.value(-18), x2=alt.value(-2), y=alt.value(566), y2=alt.value(576)),
    alt.Chart(pd.DataFrame({"a": [0]})).mark_rect(fillOpacity=0, stroke="black", strokeWidth=4).encode(
        x=alt.value(-68), x2=alt.value(1300), y=alt.value(-68.5), y2=alt.value(700)),
]

chart = alt.layer(*layers).properties(
    width=1250, height=543,
    padding={"left": 79, "top": 76, "right": 9, "bottom": 60},
    autosize=alt.AutoSizeParams(type="none"),
    background="white",
).configure_view(stroke=None)

chart.save("out.html", embed_options={"renderer": "svg", "actions": False})
